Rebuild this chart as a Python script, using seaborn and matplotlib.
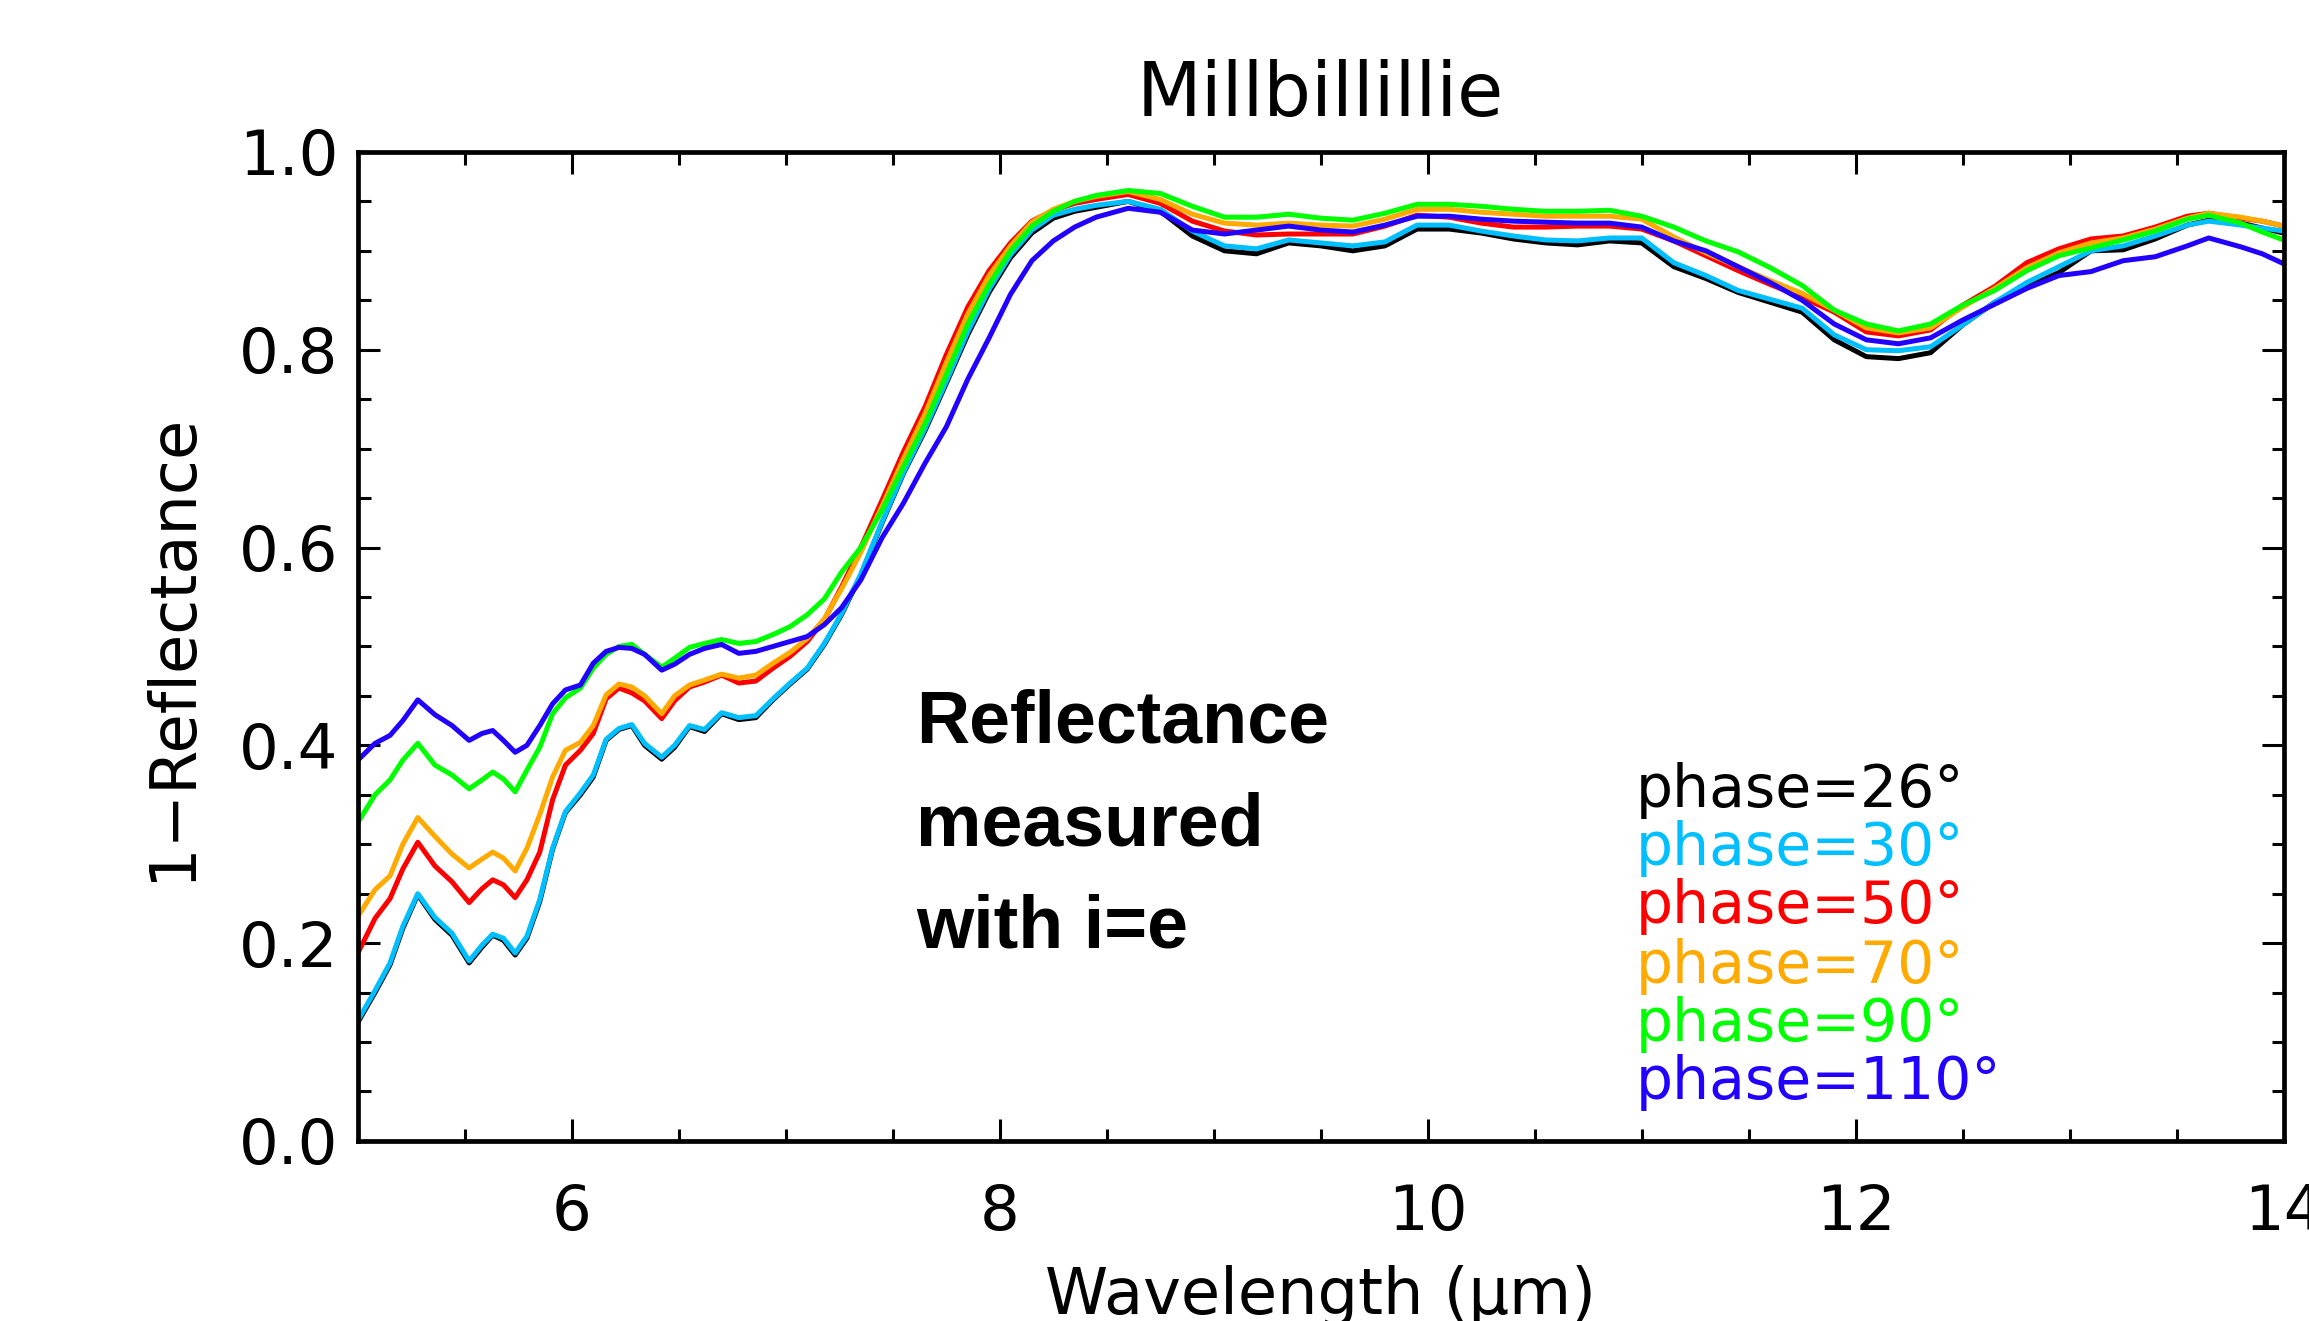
import matplotlib
matplotlib.use("Agg")
import matplotlib.pyplot as plt
from matplotlib.ticker import MultipleLocator
import pandas as pd
import seaborn as sns

# Wavelength grid (µm), shared by all spectra
wavelength = [5.00, 5.08, 5.15, 5.21, 5.28, 5.36, 5.44, 5.52, 5.58, 5.63,
              5.68, 5.735, 5.79, 5.85, 5.91, 5.97, 6.04, 6.10, 6.16, 6.22,
              6.28, 6.34, 6.42, 6.48, 6.55, 6.62, 6.70, 6.78, 6.86, 6.94,
              7.02, 7.10, 7.18, 7.26, 7.35, 7.45, 7.55, 7.65, 7.75, 7.85,
              7.95, 8.05, 8.15, 8.25, 8.35, 8.45, 8.60, 8.75, 8.90, 9.05,
              9.20, 9.35, 9.50, 9.65, 9.80, 9.95, 10.10, 10.25, 10.40, 10.55,
              10.70, 10.85, 11.00, 11.15, 11.30, 11.45, 11.60, 11.75, 11.90, 12.05,
              12.20, 12.35, 12.50, 12.65, 12.80, 12.95, 13.10, 13.25, 13.40, 13.55,
              13.65, 13.80, 13.90, 14.00]

phase_26 = [0.120, 0.150, 0.178, 0.215, 0.249, 0.224, 0.208, 0.180, 0.196, 0.208,
            0.203, 0.188, 0.205, 0.242, 0.295, 0.332, 0.350, 0.368, 0.405, 0.416,
            0.420, 0.400, 0.386, 0.398, 0.419, 0.414, 0.432, 0.426, 0.428, 0.446,
            0.462, 0.477, 0.502, 0.532, 0.572, 0.625, 0.675, 0.718, 0.766, 0.815,
            0.858, 0.893, 0.918, 0.933, 0.940, 0.944, 0.950, 0.940, 0.915, 0.900,
            0.897, 0.908, 0.905, 0.900, 0.905, 0.922, 0.922, 0.918, 0.912, 0.908,
            0.906, 0.910, 0.908, 0.884, 0.872, 0.858, 0.848, 0.838, 0.810, 0.793,
            0.791, 0.797, 0.825, 0.848, 0.864, 0.878, 0.900, 0.901, 0.912, 0.926,
            0.931, 0.928, 0.923, 0.918]

phase_30 = [0.122, 0.152, 0.180, 0.217, 0.250, 0.226, 0.210, 0.182, 0.198, 0.209,
            0.205, 0.190, 0.207, 0.244, 0.296, 0.333, 0.352, 0.370, 0.406, 0.417,
            0.421, 0.402, 0.388, 0.400, 0.420, 0.416, 0.433, 0.428, 0.430, 0.447,
            0.463, 0.478, 0.503, 0.533, 0.573, 0.626, 0.676, 0.720, 0.768, 0.818,
            0.861, 0.896, 0.921, 0.936, 0.942, 0.946, 0.950, 0.942, 0.920, 0.905,
            0.902, 0.911, 0.908, 0.905, 0.909, 0.926, 0.926, 0.920, 0.915, 0.911,
            0.910, 0.913, 0.913, 0.888, 0.875, 0.860, 0.851, 0.842, 0.815, 0.800,
            0.799, 0.803, 0.825, 0.848, 0.868, 0.884, 0.900, 0.905, 0.915, 0.926,
            0.930, 0.926, 0.923, 0.920]

phase_50 = [0.190, 0.225, 0.245, 0.275, 0.302, 0.278, 0.262, 0.241, 0.255, 0.264,
            0.259, 0.246, 0.264, 0.292, 0.345, 0.380, 0.395, 0.412, 0.447, 0.458,
            0.453, 0.445, 0.427, 0.445, 0.459, 0.464, 0.471, 0.463, 0.465, 0.478,
            0.490, 0.505, 0.527, 0.560, 0.600, 0.648, 0.697, 0.742, 0.795, 0.843,
            0.880, 0.908, 0.930, 0.941, 0.948, 0.952, 0.957, 0.948, 0.930, 0.920,
            0.916, 0.917, 0.917, 0.917, 0.925, 0.936, 0.934, 0.928, 0.924, 0.924,
            0.925, 0.925, 0.922, 0.910, 0.895, 0.880, 0.866, 0.853, 0.838, 0.818,
            0.814, 0.820, 0.845, 0.864, 0.888, 0.902, 0.912, 0.915, 0.924, 0.935,
            0.938, 0.933, 0.930, 0.925]

phase_70 = [0.227, 0.254, 0.268, 0.300, 0.327, 0.308, 0.290, 0.276, 0.285, 0.292,
            0.286, 0.273, 0.296, 0.330, 0.368, 0.395, 0.403, 0.420, 0.451, 0.462,
            0.459, 0.450, 0.432, 0.450, 0.461, 0.466, 0.472, 0.468, 0.471, 0.483,
            0.494, 0.508, 0.528, 0.558, 0.595, 0.642, 0.690, 0.735, 0.787, 0.836,
            0.875, 0.905, 0.929, 0.942, 0.950, 0.955, 0.960, 0.952, 0.937, 0.928,
            0.926, 0.928, 0.926, 0.925, 0.932, 0.942, 0.942, 0.939, 0.937, 0.935,
            0.935, 0.935, 0.932, 0.914, 0.898, 0.884, 0.870, 0.857, 0.840, 0.822,
            0.817, 0.822, 0.843, 0.862, 0.883, 0.898, 0.908, 0.913, 0.922, 0.933,
            0.938, 0.934, 0.930, 0.925]

phase_90 = [0.322, 0.350, 0.365, 0.385, 0.402, 0.380, 0.370, 0.356, 0.365, 0.373,
            0.366, 0.353, 0.375, 0.398, 0.432, 0.448, 0.458, 0.478, 0.492, 0.500,
            0.502, 0.492, 0.479, 0.488, 0.499, 0.503, 0.507, 0.503, 0.505, 0.512,
            0.520, 0.532, 0.548, 0.575, 0.600, 0.638, 0.682, 0.725, 0.775, 0.826,
            0.866, 0.900, 0.925, 0.940, 0.950, 0.956, 0.961, 0.958, 0.945, 0.934,
            0.934, 0.937, 0.933, 0.931, 0.938, 0.947, 0.947, 0.945, 0.942, 0.940,
            0.940, 0.941, 0.935, 0.924, 0.910, 0.899, 0.883, 0.865, 0.840, 0.826,
            0.819, 0.826, 0.845, 0.860, 0.880, 0.895, 0.903, 0.911, 0.920, 0.932,
            0.936, 0.928, 0.919, 0.911]

phase_110 = [0.385, 0.402, 0.410, 0.425, 0.446, 0.431, 0.420, 0.405, 0.412, 0.415,
             0.405, 0.393, 0.400, 0.420, 0.442, 0.456, 0.461, 0.483, 0.495, 0.499,
             0.498, 0.492, 0.476, 0.482, 0.492, 0.498, 0.502, 0.493, 0.495, 0.500,
             0.505, 0.510, 0.522, 0.539, 0.567, 0.610, 0.645, 0.685, 0.722, 0.770,
             0.812, 0.856, 0.890, 0.910, 0.924, 0.934, 0.943, 0.939, 0.921, 0.917,
             0.921, 0.925, 0.921, 0.919, 0.926, 0.935, 0.935, 0.932, 0.930, 0.929,
             0.928, 0.928, 0.924, 0.910, 0.900, 0.884, 0.868, 0.850, 0.826, 0.810,
             0.806, 0.812, 0.830, 0.846, 0.862, 0.875, 0.879, 0.890, 0.894, 0.905,
             0.913, 0.904, 0.897, 0.887]

phase_labels = ["phase=26°", "phase=30°", "phase=50°", "phase=70°", "phase=90°", "phase=110°"]
phase_colors = ["#000000", "#00bfff", "#ff0000", "#ffaa00", "#00ff00", "#2200ff"]
series = [phase_26, phase_30, phase_50, phase_70, phase_90, phase_110]

# long-form table for seaborn
rows = []
for lab, vals in zip(phase_labels, series):
    for w, v in zip(wavelength, vals):
        rows.append({"Wavelength": w, "value": v, "phase": lab})
df = pd.DataFrame(rows)

sns.set_style("ticks")
plt.rcParams['font.family'] = ['DejaVu Sans']
plt.rcParams['text.color'] = 'black'
plt.rcParams['axes.labelcolor'] = 'black'
plt.rcParams['axes.edgecolor'] = 'black'
plt.rcParams['xtick.color'] = 'black'
plt.rcParams['ytick.color'] = 'black'

fig = plt.figure(figsize=(23.09, 13.21), dpi=100)
ax = fig.add_axes([0.155, 0.1363, 0.834, 0.7487])

sns.lineplot(data=df, x="Wavelength", y="value", hue="phase", hue_order=phase_labels,
             palette=phase_colors, legend=False, linewidth=3.6, ax=ax, sort=True)

ax.set_xlim(5, 14)
ax.set_ylim(0, 1.0)
ax.xaxis.set_major_locator(MultipleLocator(2))
ax.xaxis.set_minor_locator(MultipleLocator(0.5))
ax.yaxis.set_major_locator(MultipleLocator(0.2))
ax.yaxis.set_minor_locator(MultipleLocator(0.05))
ax.tick_params(which="both", direction="in", top=True, right=True, labelsize=45, width=2.2)
ax.tick_params(which="major", length=16)
ax.tick_params(which="minor", length=9)
ax.tick_params(axis="x", which="major", pad=30)
ax.tick_params(axis="y", which="major", pad=14)
for sp in ax.spines.values():
    sp.set_linewidth(3.4)

ax.set_title("Millbillillie", fontsize=54, pad=26)
ax.set_xlabel("Wavelength (μm)", fontsize=46, labelpad=16)
ax.set_ylabel("1−Reflectance", fontsize=46, labelpad=26)

# annotation block
for txt, yb in zip(["Reflectance", "measured", "with i=e"], [0.403, 0.299, 0.196]):
    ax.text(7.61, yb, txt, fontsize=53, fontweight="bold", family="Liberation Sans",
            va="baseline", ha="left", color="black")

# coloured phase labels
for lab, col, yb in zip(phase_labels, phase_colors, [0.338, 0.279, 0.220, 0.160, 0.101, 0.042]):
    ax.text(10.97, yb, lab, fontsize=42, color=col, va="baseline", ha="left")

fig.savefig("out.png", dpi=100)
